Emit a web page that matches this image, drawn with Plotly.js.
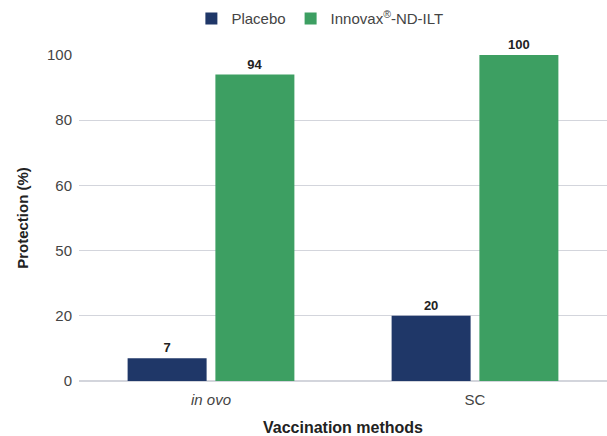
<!DOCTYPE html>
<html>
<head>
<meta charset="utf-8">
<script src="https://cdn.plot.ly/plotly-3.0.1.min.js"></script>
<style>html,body{margin:0;padding:0;background:#fff;}#chart{width:607px;height:436px;}</style>
</head>
<body>
<div id="chart"></div>
<script>
const categories = ["in ovo", "SC"];
const categoryLabels = ["<i>in ovo</i>", "SC"];
const placebo = [7, 20];
const innovax = [94, 100];
const seriesNames = ["Placebo", "Innovax<sup>®</sup>-ND-ILT"];
const yTickVals = [0, 20, 40, 60, 80, 100];
const yTickText = ["0", "20", "50", "60", "80", "100"];

const font = "Liberation Sans, Arial, sans-serif";

const traces = [
  {
    type: "bar", name: seriesNames[0], x: categories, y: placebo,
    marker: {color: "#1f3768"},
    text: placebo.map(v => "<b>" + v + "</b>"), textposition: "outside",
    textfont: {family: font, size: 13, color: "#222"}, cliponaxis: false,
    hoverinfo: "none"
  },
  {
    type: "bar", name: seriesNames[1], x: categories, y: innovax,
    marker: {color: "#3d9f62"},
    text: innovax.map(v => "<b>" + v + "</b>"), textposition: "outside",
    textfont: {family: font, size: 13, color: "#222"}, cliponaxis: false,
    hoverinfo: "none"
  }
];

const layout = {
  width: 607, height: 436,
  margin: {l: 79, r: 0, t: 55, b: 55},
  paper_bgcolor: "#fff", plot_bgcolor: "#fff",
  font: {family: font, size: 13, color: "#444"},
  barmode: "group", bargap: 0.335, bargroupgap: 0.1,
  showlegend: true,
  legend: {
    orientation: "h", xref: "container", yref: "container",
    x: 0.527, xanchor: "center", y: 0.995, yanchor: "top",
    font: {family: font, size: 15, color: "#444"},
    itemwidth: 30, traceorder: "normal"
  },
  xaxis: {
    type: "category", tickvals: categories, ticktext: categoryLabels,
    showgrid: false, showline: false, ticks: "", zeroline: false,
    ticklabelstandoff: 8,
    tickfont: {family: font, size: 15, color: "#444"},
    title: {text: "<b>Vaccination methods</b>", font: {family: font, size: 16, color: "#222"}, standoff: 16}
  },
  yaxis: {
    range: [0, 100], tickvals: yTickVals, ticktext: yTickText,
    showgrid: true, gridcolor: "#d3d5dc", gridwidth: 1,
    zeroline: true, zerolinecolor: "#d3d5dc", zerolinewidth: 2,
    showline: false, ticks: "", ticklabelstandoff: 6,
    tickfont: {family: font, size: 15, color: "#444"},
    title: {text: "<b>Protection (%)</b>", font: {family: font, size: 15, color: "#222"}, standoff: 14}
  }
};

Plotly.newPlot("chart", traces, layout, {displayModeBar: false, staticPlot: true});
</script>
</body>
</html>
